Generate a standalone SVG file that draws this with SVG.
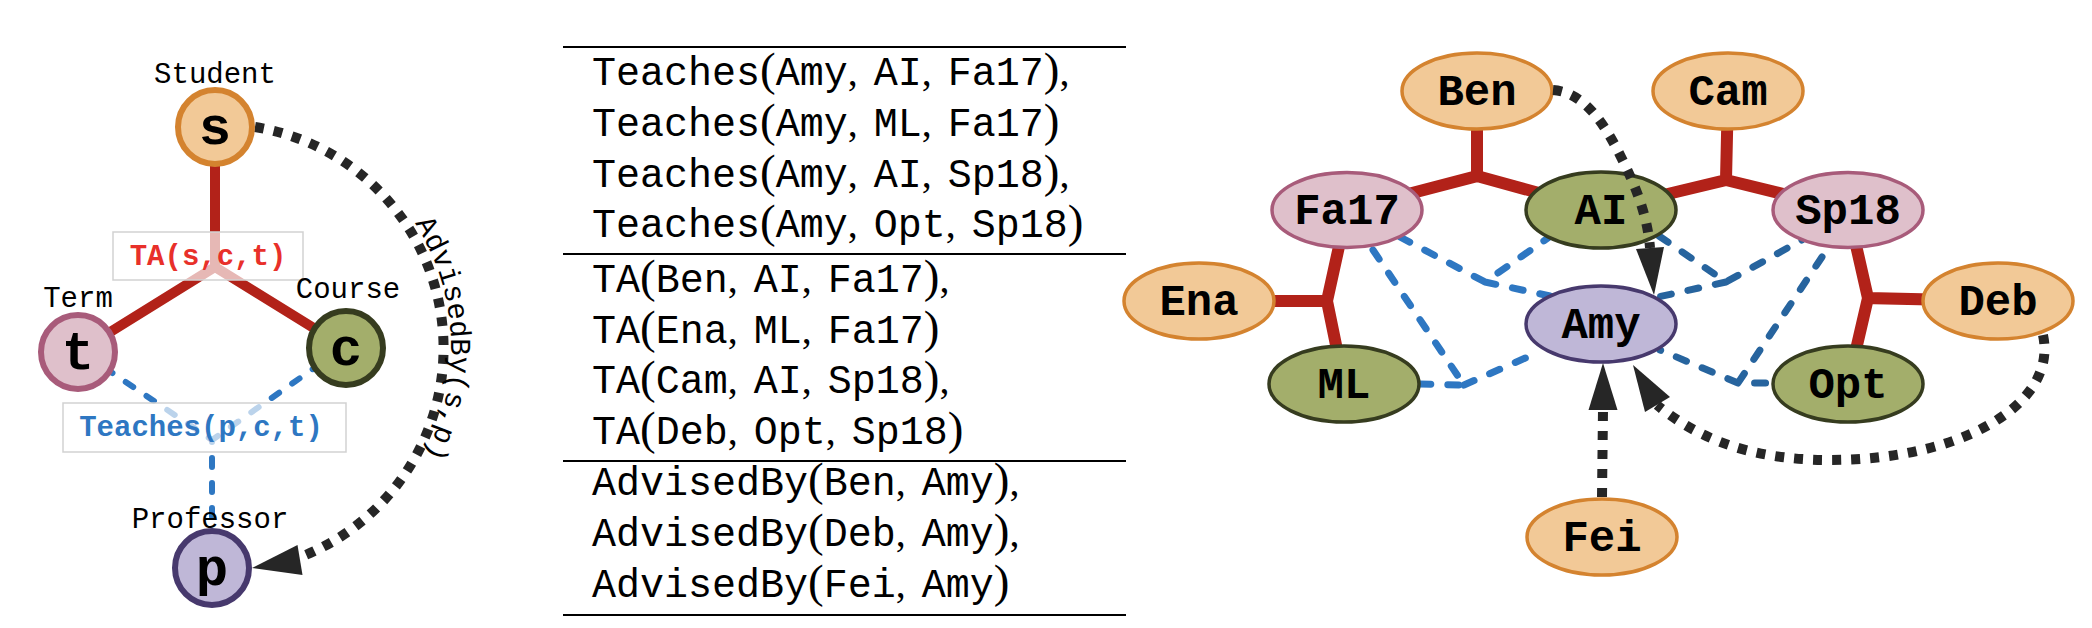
<svg xmlns="http://www.w3.org/2000/svg" width="2092" height="628" viewBox="0 0 2092 628">
<style>
.lbl{font-family:"Liberation Mono",monospace;font-size:29px;fill:#000;text-anchor:middle}
.big{font-family:"Liberation Mono",monospace;font-weight:bold;font-size:54px;text-anchor:middle;fill:#000}
.nl{font-family:"Liberation Mono",monospace;font-weight:bold;font-size:44px;text-anchor:middle;fill:#000}
.hl{font-family:"Liberation Mono",monospace;font-weight:bold;font-size:29px;text-anchor:middle}
.tt{font-family:"Liberation Mono",monospace;font-size:40px}
.rm{font-family:"Liberation Serif",serif;font-size:40px}
.pa{font-family:"Liberation Serif",serif;font-size:47px}
.red{stroke:#b22219;stroke-width:12;fill:none}
.redL{stroke:#b22219;stroke-width:10;fill:none}
.blue{stroke:#2e77c2;stroke-width:7;stroke-dasharray:11 17;stroke-linecap:round;fill:none}
.blue2{stroke:#27649e;stroke-width:7;stroke-dasharray:11 17;stroke-linecap:round;fill:none}
.blueL{stroke:#2e77c2;stroke-width:6;stroke-dasharray:9 16;stroke-linecap:round;fill:none}
.dot{stroke:#262626;stroke-width:10;stroke-dasharray:9 10;fill:none}
.head{fill:#262626}
.or{fill:#f2c997;stroke:#d4832f}
.pk{fill:#dfc0cb;stroke:#a85b7a}
.gr{fill:#a3ae6b;stroke:#363c1f}
.pu{fill:#bfb7d7;stroke:#47396d}
.c{stroke-width:6}
.e{stroke-width:3.5}
.box{fill:#fff;fill-opacity:0.68;stroke:#d2d2d2;stroke-width:1.5}
.rule{stroke:#000;stroke-width:2}
</style>

<!-- Left panel connectors -->
<g id="left-connectors">
  <path class="redL" d="M215,127 L215,267 L78,352 M215,267 L346,348"/>
  <path class="blueL" d="M105,368 L212,440 M320,364 L212,440 L212,530"/>
  <path class="dot" d="M255,127 A224,224 0 0 1 298,558"/>
  <polygon class="head" points="252,568 297.5,545 302.5,575"/>
  <rect class="box" x="113" y="232" width="190" height="48"/>
  <rect class="box" x="63" y="403" width="283" height="49"/>
  <text class="hl" x="208" y="265" fill="#e8302a">TA(s,c,t)</text>
  <text class="hl" x="201" y="436" fill="#2e77c2">Teaches(p,c,t)</text>
  <path id="advArc" d="M336,147 A233,233 0 0 1 336,549" fill="none"/>
  <text class="lbl"><textPath href="#advArc" startOffset="48%">AdvisedBy(s,p)</textPath></text>
</g>

<g id="node-s">
  <circle class="or c" cx="215" cy="127" r="37"/>
  <text class="big" x="215" y="144">s</text>
  <text class="lbl" x="215" y="83">Student</text>
</g>
<g id="node-t">
  <circle class="pk c" cx="78" cy="352" r="37"/>
  <text class="big" x="78" y="369">t</text>
  <text class="lbl" x="78" y="307">Term</text>
</g>
<g id="node-c">
  <circle class="gr c" cx="346" cy="348" r="37"/>
  <text class="big" x="346" y="365">c</text>
  <text class="lbl" x="348" y="298">Course</text>
</g>
<g id="node-p">
  <circle class="pu c" cx="212" cy="568" r="37"/>
  <text class="big" x="212" y="585">p</text>
  <text class="lbl" x="210" y="528">Professor</text>
</g>

<!-- Middle table -->
<g id="table">
  <line class="rule" x1="563" y1="47" x2="1126" y2="47"/>
  <line class="rule" x1="563" y1="254" x2="1126" y2="254"/>
  <line class="rule" x1="563" y1="461" x2="1126" y2="461"/>
  <line class="rule" x1="563" y1="615" x2="1126" y2="615"/>
  <text x="592" y="85"><tspan class="tt">Teaches</tspan><tspan class="pa">(</tspan><tspan class="tt">Amy</tspan><tspan class="rm">,</tspan><tspan class="tt" dx="16">AI</tspan><tspan class="rm">,</tspan><tspan class="tt" dx="16">Fa17</tspan><tspan class="pa">)</tspan><tspan class="rm">,</tspan></text>
  <text x="592" y="136"><tspan class="tt">Teaches</tspan><tspan class="pa">(</tspan><tspan class="tt">Amy</tspan><tspan class="rm">,</tspan><tspan class="tt" dx="16">ML</tspan><tspan class="rm">,</tspan><tspan class="tt" dx="16">Fa17</tspan><tspan class="pa">)</tspan></text>
  <text x="592" y="187"><tspan class="tt">Teaches</tspan><tspan class="pa">(</tspan><tspan class="tt">Amy</tspan><tspan class="rm">,</tspan><tspan class="tt" dx="16">AI</tspan><tspan class="rm">,</tspan><tspan class="tt" dx="16">Sp18</tspan><tspan class="pa">)</tspan><tspan class="rm">,</tspan></text>
  <text x="592" y="237"><tspan class="tt">Teaches</tspan><tspan class="pa">(</tspan><tspan class="tt">Amy</tspan><tspan class="rm">,</tspan><tspan class="tt" dx="16">Opt</tspan><tspan class="rm">,</tspan><tspan class="tt" dx="16">Sp18</tspan><tspan class="pa">)</tspan></text>
  <text x="592" y="292"><tspan class="tt">TA</tspan><tspan class="pa">(</tspan><tspan class="tt">Ben</tspan><tspan class="rm">,</tspan><tspan class="tt" dx="16">AI</tspan><tspan class="rm">,</tspan><tspan class="tt" dx="16">Fa17</tspan><tspan class="pa">)</tspan><tspan class="rm">,</tspan></text>
  <text x="592" y="343"><tspan class="tt">TA</tspan><tspan class="pa">(</tspan><tspan class="tt">Ena</tspan><tspan class="rm">,</tspan><tspan class="tt" dx="16">ML</tspan><tspan class="rm">,</tspan><tspan class="tt" dx="16">Fa17</tspan><tspan class="pa">)</tspan></text>
  <text x="592" y="393"><tspan class="tt">TA</tspan><tspan class="pa">(</tspan><tspan class="tt">Cam</tspan><tspan class="rm">,</tspan><tspan class="tt" dx="16">AI</tspan><tspan class="rm">,</tspan><tspan class="tt" dx="16">Sp18</tspan><tspan class="pa">)</tspan><tspan class="rm">,</tspan></text>
  <text x="592" y="444"><tspan class="tt">TA</tspan><tspan class="pa">(</tspan><tspan class="tt">Deb</tspan><tspan class="rm">,</tspan><tspan class="tt" dx="16">Opt</tspan><tspan class="rm">,</tspan><tspan class="tt" dx="16">Sp18</tspan><tspan class="pa">)</tspan></text>
  <text x="592" y="495"><tspan class="tt">AdvisedBy</tspan><tspan class="pa">(</tspan><tspan class="tt">Ben</tspan><tspan class="rm">,</tspan><tspan class="tt" dx="16">Amy</tspan><tspan class="pa">)</tspan><tspan class="rm">,</tspan></text>
  <text x="592" y="546"><tspan class="tt">AdvisedBy</tspan><tspan class="pa">(</tspan><tspan class="tt">Deb</tspan><tspan class="rm">,</tspan><tspan class="tt" dx="16">Amy</tspan><tspan class="pa">)</tspan><tspan class="rm">,</tspan></text>
  <text x="592" y="597"><tspan class="tt">AdvisedBy</tspan><tspan class="pa">(</tspan><tspan class="tt">Fei</tspan><tspan class="rm">,</tspan><tspan class="tt" dx="16">Amy</tspan><tspan class="pa">)</tspan></text>
</g>

<!-- Right graph connectors (TA / Teaches hyperedges) -->
<g id="right-connectors">
  <path class="red" d="M1477,91 L1477,176 L1347,210 M1477,176 L1601,210"/>
  <path class="red" d="M1728,91 L1726,180 L1601,210 M1726,180 L1848,210"/>
  <path class="red" d="M1199,301 L1327,301 L1347,210 M1327,301 L1344,384"/>
  <path class="red" d="M1998,301 L1868,298 L1848,210 M1868,298 L1848,384"/>
  <path class="blue" d="M1400,237 L1485,282 L1548,238 M1485,282 L1550,296"/>
  <path class="blue" d="M1373,250 L1464,385 L1420,384 M1464,385 L1539,352"/>
  <path class="blue2" d="M1659,236 L1726,282 L1802,240 M1726,282 L1658,297"/>
  <path class="blue2" d="M1822,257 L1738,383 L1773,383 M1738,383 L1660,350"/>
</g>

<g id="node-Ben"><ellipse class="or e" cx="1477" cy="91" rx="75" ry="38"/><text class="nl" x="1477" y="105">Ben</text></g>
<g id="node-Cam"><ellipse class="or e" cx="1728" cy="91" rx="75" ry="38"/><text class="nl" x="1728" y="105">Cam</text></g>
<g id="node-Fa17"><ellipse class="pk e" cx="1347" cy="210" rx="75" ry="37.5"/><text class="nl" x="1347" y="224">Fa17</text></g>
<g id="node-AI"><ellipse class="gr e" cx="1601" cy="210" rx="75" ry="38"/><text class="nl" x="1601" y="224">AI</text></g>
<g id="node-Sp18"><ellipse class="pk e" cx="1848" cy="210" rx="75" ry="37.5"/><text class="nl" x="1848" y="224">Sp18</text></g>
<g id="node-Ena"><ellipse class="or e" cx="1199" cy="301" rx="75" ry="38"/><text class="nl" x="1199" y="315">Ena</text></g>
<g id="node-Deb"><ellipse class="or e" cx="1998" cy="301" rx="75" ry="38"/><text class="nl" x="1998" y="315">Deb</text></g>
<g id="node-Amy"><ellipse class="pu e" cx="1601" cy="324" rx="75" ry="38"/><text class="nl" x="1601" y="338">Amy</text></g>
<g id="node-ML"><ellipse class="gr e" cx="1344" cy="384" rx="75" ry="38"/><text class="nl" x="1344" y="398">ML</text></g>
<g id="node-Opt"><ellipse class="gr e" cx="1848" cy="384" rx="75" ry="38"/><text class="nl" x="1848" y="398">Opt</text></g>
<g id="node-Fei"><ellipse class="or e" cx="1602" cy="537" rx="75" ry="38"/><text class="nl" x="1602" y="551">Fei</text></g>

<!-- Right graph AdvisedBy connectors (drawn over nodes) -->
<g id="advised-connectors">
  <path class="dot" d="M1553,90 C1580,92 1600,115 1620,155 C1638,190 1648,220 1650,248"/>
  <polygon class="head" points="1654,295 1636,249 1664,247"/>
  <path class="dot" d="M1602,497 L1603,410"/>
  <polygon class="head" points="1603,363 1588.5,410 1617.5,410"/>
  <path class="dot" d="M2043,335 C2058,405 1960,460 1830,460 C1740,460 1690,432 1657,405"/>
  <polygon class="head" points="1633,365 1645,412 1670,397"/>
</g>
</svg>
